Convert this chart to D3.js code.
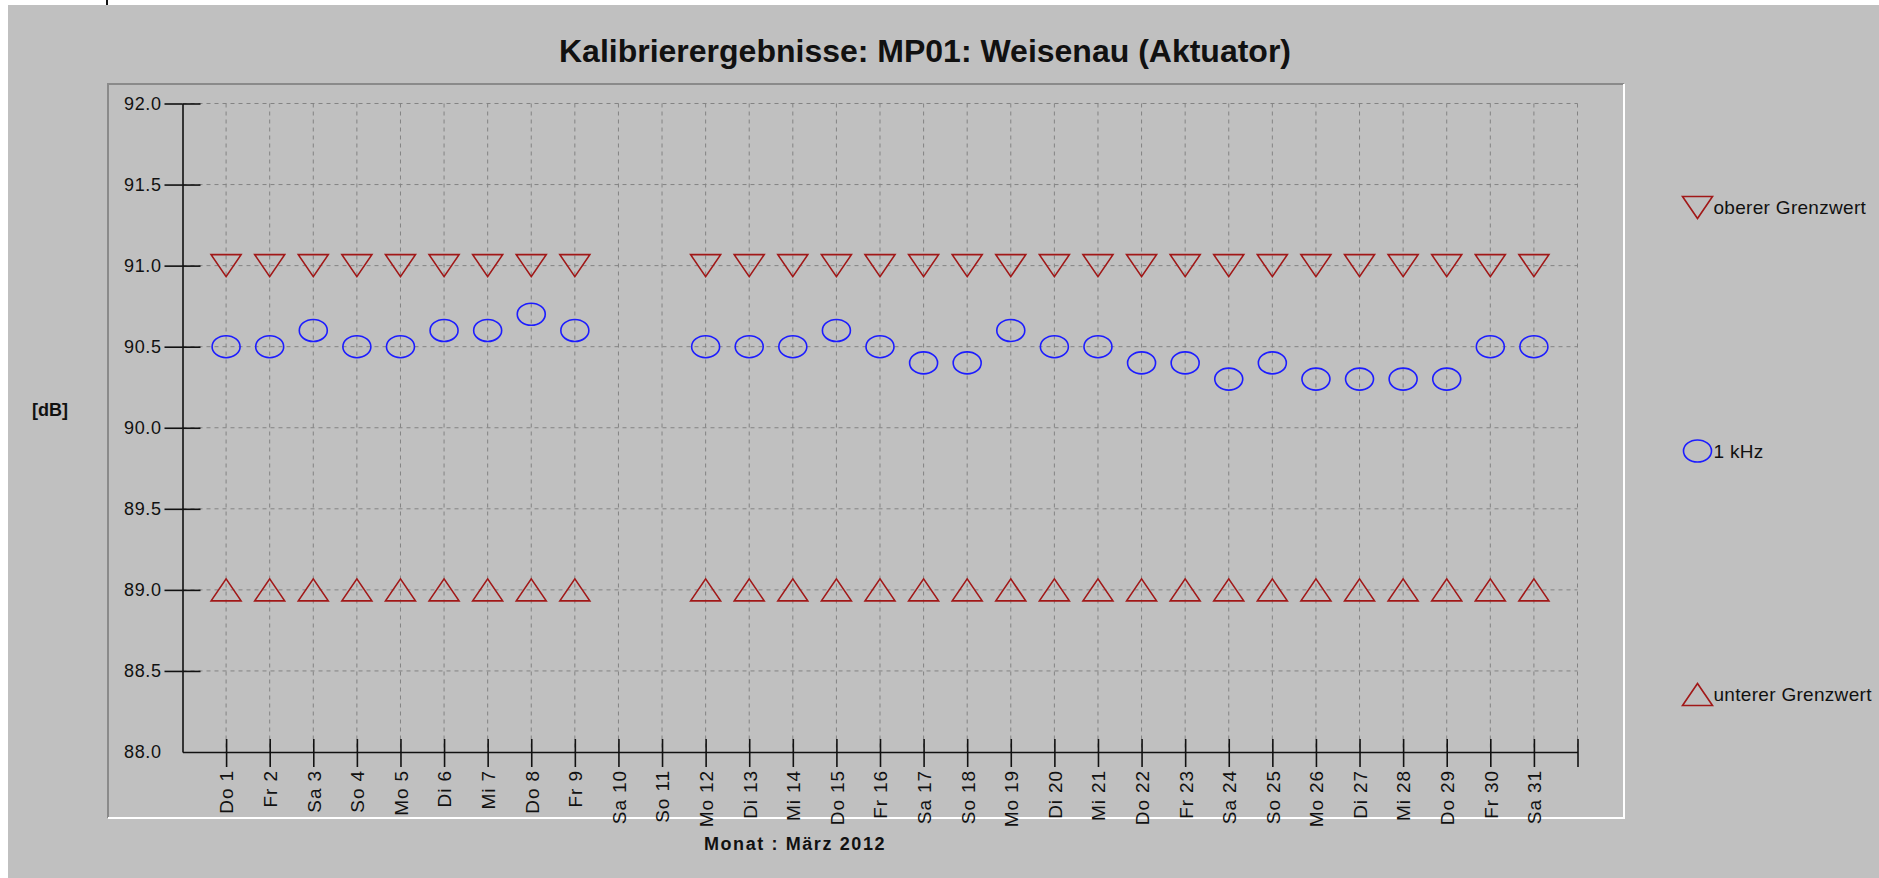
<!DOCTYPE html>
<html>
<head>
<meta charset="utf-8">
<script src="https://cdn.jsdelivr.net/npm/d3@7"></script>
<style>
	body { margin: 0; background: #fff; }
	svg { display: block; }
	text { font-family: "Liberation Sans", Arial, sans-serif; fill: #111; }
</style>
</head>
<body>
<svg id="chart" width="1879" height="878"></svg>
<script>
// Day labels (März 2012)
var dayLabels = ["Do 1", "Fr 2", "Sa 3", "So 4", "Mo 5", "Di 6", "Mi 7", "Do 8", "Fr 9", "Sa 10",
	"So 11", "Mo 12", "Di 13", "Mi 14", "Do 15", "Fr 16", "Sa 17", "So 18", "Mo 19", "Di 20",
	"Mi 21", "Do 22", "Fr 23", "Sa 24", "So 25", "Mo 26", "Di 27", "Mi 28", "Do 29", "Fr 30", "Sa 31"];

// Upper limit
var oberer = [91.0, 91.0, 91.0, 91.0, 91.0, 91.0, 91.0, 91.0, 91.0, null,
	null, 91.0, 91.0, 91.0, 91.0, 91.0, 91.0, 91.0, 91.0, 91.0,
	91.0, 91.0, 91.0, 91.0, 91.0, 91.0, 91.0, 91.0, 91.0, 91.0, 91.0];

// 1 kHz measurements
var kHz = [90.5, 90.5, 90.6, 90.5, 90.5, 90.6, 90.6, 90.7, 90.6, null,
	null, 90.5, 90.5, 90.5, 90.6, 90.5, 90.4, 90.4, 90.6, 90.5,
	90.5, 90.4, 90.4, 90.3, 90.4, 90.3, 90.3, 90.3, 90.3, 90.5, 90.5];

// Lower limit
var unterer = [89.0, 89.0, 89.0, 89.0, 89.0, 89.0, 89.0, 89.0, 89.0, null,
	null, 89.0, 89.0, 89.0, 89.0, 89.0, 89.0, 89.0, 89.0, 89.0,
	89.0, 89.0, 89.0, 89.0, 89.0, 89.0, 89.0, 89.0, 89.0, 89.0, 89.0];

// Y tick values
var yTicks = [88.0, 88.5, 89.0, 89.5, 90.0, 90.5, 91.0, 91.5, 92.0];

var seriesNames = ["oberer Grenzwert", "1 kHz", "unterer Grenzwert"];

var red = "#a11818",
	blue = "#1c1cff";

var svg = d3.select("#chart");
var W = 1879, H = 878;

// Background panel
svg.append("rect").attr("x", 8).attr("y", 5).attr("width", W - 8).attr("height", H - 5).attr("fill", "#c0c0c0");
svg.append("rect").attr("x", 106).attr("y", 0).attr("width", 2).attr("height", 5).attr("fill", "#111");

// Sunken frame round the plot
var frame = { left: 108, top: 84, right: 1624, bottom: 818 };
svg.append("path")
	.attr("d", "M" + frame.left + "," + frame.bottom + "V" + frame.top + "H" + frame.right)
	.attr("fill", "none").attr("stroke", "#8a8a8a").attr("stroke-width", 2);
svg.append("path")
	.attr("d", "M" + frame.right + "," + frame.top + "V" + frame.bottom + "H" + frame.left)
	.attr("fill", "none").attr("stroke", "#fff").attr("stroke-width", 2);

// Title
svg.append("text")
	.attr("x", 925).attr("y", 62)
	.attr("text-anchor", "middle")
	.style("font-weight", "bold").style("font-size", "32px")
	.text("Kalibrierergebnisse: MP01: Weisenau (Aktuator)");

// Scales
var x = d3.scaleLinear().domain([0, dayLabels.length + 1]).range([182.5, 1577.5]);
var y = d3.scaleLinear().domain([88, 92]).range([752, 103.5]);
var xTicks = d3.range(1, dayLabels.length + 2);

var g = svg.append("g");

// Grid
g.append("g").selectAll("line")
	.data(yTicks.slice(1))
	.enter().append("line")
		.attr("x1", x(0)).attr("x2", x(dayLabels.length + 1))
		.attr("y1", function(d) { return y(d); })
		.attr("y2", function(d) { return y(d); })
		.attr("stroke", "#838383").attr("stroke-dasharray", "4,4");
g.append("g").selectAll("line")
	.data(xTicks)
	.enter().append("line")
		.attr("x1", function(d) { return x(d); })
		.attr("x2", function(d) { return x(d); })
		.attr("y1", y(92)).attr("y2", y(88))
		.attr("stroke", "#838383").attr("stroke-dasharray", "4,4");

// Y Axis
var yAxis = g.append("g")
	.attr("transform", "translate(" + x(0) + ",0)")
	.call(d3.axisLeft(y).tickValues(yTicks).tickSize(18).tickSizeOuter(0).tickPadding(3).tickFormat(d3.format(".1f")));
yAxis.selectAll(".tick").append("line").attr("x2", 18).attr("stroke", "#000");
yAxis.selectAll(".tick").filter(function(d) { return d === 88; }).selectAll("line").remove();
yAxis.selectAll("line, path").attr("stroke", "#111").attr("stroke-width", 1.6);
yAxis.selectAll("text")
	.style("font-size", "18px").style("letter-spacing", "0.6px")
	.attr("fill", "#111");

// X Axis
var xAxis = g.append("g")
	.attr("transform", "translate(0," + y(88) + ")")
	.call(d3.axisBottom(x).tickValues(xTicks).tickSize(15).tickSizeOuter(0)
		.tickFormat(function(d) { return dayLabels[d - 1] || ""; }));
xAxis.selectAll(".tick").append("line").attr("y2", -13).attr("stroke", "#000");
xAxis.selectAll("line, path").attr("stroke", "#111").attr("stroke-width", 1.6);
xAxis.selectAll("text")
	.attr("fill", "#111")
	.style("font-size", "19px").style("letter-spacing", "0.9px")
	.style("text-anchor", "end")
	.attr("y", 0).attr("dy", "0.36em")
	.attr("transform", "translate(0,18) rotate(-90)");

// Marker shapes
function triDown(w, h) {
	return "M" + (-w / 2) + "," + (-h / 2) + "H" + (w / 2) + "L0," + (h / 2) + "Z";
}
function triUp(w, h) {
	return "M" + (-w / 2) + "," + (h / 2) + "H" + (w / 2) + "L0," + (-h / 2) + "Z";
}
function ellipse(w, h) {
	return "M" + (-w / 2) + ",0A" + (w / 2) + "," + (h / 2) + " 0 1,0 " + (w / 2) + ",0A" + (w / 2) + "," + (h / 2) + " 0 1,0 " + (-w / 2) + ",0Z";
}

var series = [
	{ name: seriesNames[0], values: oberer, shape: triDown(30, 22), color: red },
	{ name: seriesNames[1], values: kHz, shape: ellipse(28, 22), color: blue },
	{ name: seriesNames[2], values: unterer, shape: triUp(30, 22), color: red }
];

// Points
g.selectAll(".serie")
	.data(series)
	.enter().append("g")
		.attr("class", "serie")
		.attr("stroke", function(d) { return d.color; })
	.selectAll("path")
	.data(function(d) {
		return d.values.map(function(v, i) { return { v: v, i: i, shape: d.shape }; })
			.filter(function(p) { return p.v !== null; });
	})
	.enter().append("path")
		.attr("d", function(p) { return p.shape; })
		.attr("transform", function(p) { return "translate(" + x(p.i + 1) + "," + y(p.v) + ")"; })
		.attr("fill", "none")
		.attr("stroke-width", 1.6);

// Axis titles
svg.append("text")
	.attr("x", 50).attr("y", 416)
	.attr("text-anchor", "middle")
	.style("font-weight", "bold").style("font-size", "18px")
	.text("[dB]");
svg.append("text")
	.attr("x", 795).attr("y", 850)
	.attr("text-anchor", "middle")
	.style("font-weight", "bold").style("font-size", "18px").style("letter-spacing", "1.6px")
	.text("Monat : März 2012");

// Legend
var legend = svg.selectAll(".legend")
	.data(series)
	.enter().append("g")
		.attr("class", "legend")
		.attr("transform", function(d, i) { return "translate(1697.5," + (207.5 + i * 243.5) + ")"; });

legend.append("path")
	.attr("d", function(d) { return d.shape; })
	.attr("fill", "none")
	.attr("stroke", function(d) { return d.color; })
	.attr("stroke-width", 1.6);

legend.append("text")
	.attr("x", 16)
	.attr("dy", "0.36em")
	.style("font-size", "19px").style("letter-spacing", "0.3px")
	.text(function(d) { return d.name; });
</script>
</body>
</html>
